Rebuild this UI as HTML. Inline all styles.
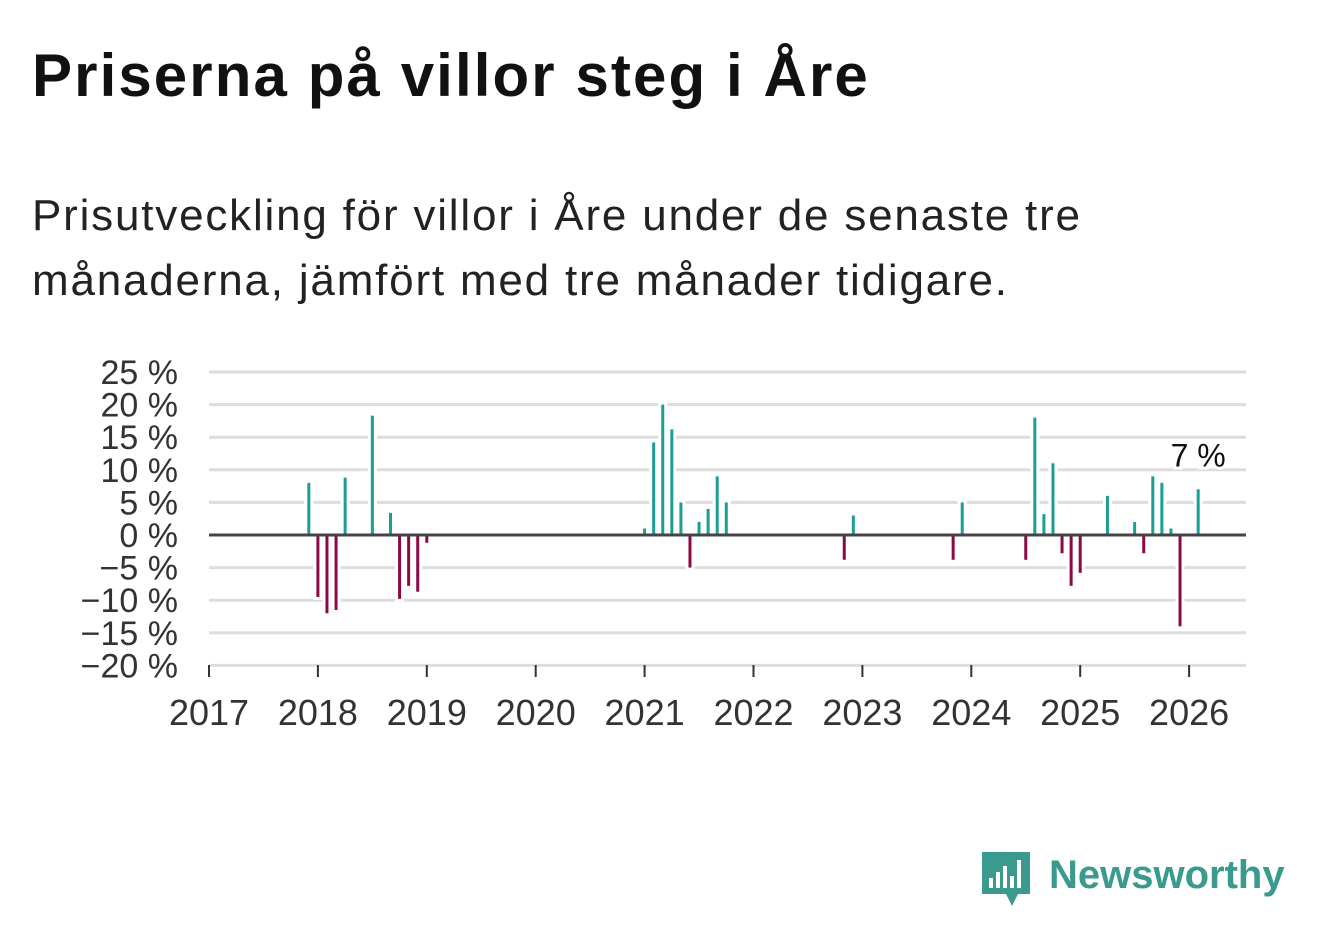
<!DOCTYPE html>
<html><head><meta charset="utf-8"><style>
body{margin:0;width:1322px;height:939px;background:#fff;font-family:"Liberation Sans",sans-serif;overflow:hidden;position:relative}
#title{position:absolute;left:32px;top:41px;font-size:60px;line-height:69px;letter-spacing:2.1px;font-weight:bold;color:#111;margin:0}
#sub{position:absolute;left:32px;top:183px;font-size:44px;line-height:65px;letter-spacing:1.8px;color:#222;width:1280px}
svg{position:absolute;left:0;top:0}
</style></head><body>
<h1 id="title">Priserna på villor steg i Åre</h1>
<div id="sub">Prisutveckling för villor i Åre under de senaste tre<br>månaderna, jämfört med tre månader tidigare.</div>
<svg id="chart" width="1322" height="939"></svg>
<svg width="1322" height="939" style="pointer-events:none">
<path d="M982 852 h48 v42 h-12 l-6 12 l-6 -12 h-24 z" fill="#3a9a8e"/>
<rect x="989" y="878" width="4" height="10" fill="#fff"/><rect x="996" y="872" width="4" height="16" fill="#fff"/><rect x="1003" y="866" width="4" height="22" fill="#fff"/><rect x="1010" y="876" width="4" height="12" fill="#fff"/><rect x="1017" y="860" width="4" height="28" fill="#fff"/>
<text x="1049" y="888" font-size="40" font-weight="bold" fill="#3a9a8e" font-family="Liberation Sans, sans-serif">Newsworthy</text>
</svg>
<script>
const monthIdx=[11,12,13,14,15,18,20,21,22,23,24,48,49,50,51,52,53,54,55,56,57,70,71,82,83,90,91,92,93,94,95,96,99,102,103,104,105,106,107,109];
const values=[8,-9.5,-12,-11.5,8.8,18.3,3.4,-9.8,-7.8,-8.7,-1.2,1,14.2,20,16.2,5,-5,2,4,9,5,-3.8,3,-3.8,5,-3.8,18,3.2,11,-2.8,-7.8,-5.8,6,2,-2.8,9,8,1,-14,7];
const yTicks=[25,20,15,10,5,0,-5,-10,-15,-20];
const years=[2017,2018,2019,2020,2021,2022,2023,2024,2025,2026];
const NS="http://www.w3.org/2000/svg";
const svg=document.getElementById('chart');
const x0=209,pm=9.075,y0=535,py=6.52;
const X=m=>x0+m*pm, Y=v=>y0-v*py;
function el(t,a){const e=document.createElementNS(NS,t);for(const k in a)e.setAttribute(k,a[k]);svg.appendChild(e);return e;}
yTicks.forEach(v=>{
 if(v!==0){const l=el('line',{x1:209,x2:1246,y1:Y(v),y2:Y(v),stroke:'#ddd','stroke-width':3});
 
 }
 const t=el('text',{x:178,y:Y(v)+12,'text-anchor':'end','font-size':34,fill:'#333'});
 t.textContent=(v<0?'−'+(-v):v)+' %';
 
 
});
years.forEach((yr,i)=>{
 const x=X(i*12);
 const tk=el('line',{x1:x,x2:x,y1:665,y2:677,stroke:'#333','stroke-width':2});
 
 
 const t=el('text',{x:x,y:725,'text-anchor':'middle','font-size':36,fill:'#333'});
 t.textContent=yr;
 
 
});
monthIdx.forEach((m,i)=>{
 const v=values[i];const top=Math.min(Y(v),y0),h=Math.abs(Y(v)-y0);
 el('rect',{x:X(m)-4.5,y:top-3,width:9,height:h+6,fill:'#fff'});
});
monthIdx.forEach((m,i)=>{
 const v=values[i];const top=Math.min(Y(v),y0),h=Math.abs(Y(v)-y0);
 const r=el('rect',{x:X(m)-1.5,y:top,width:3,height:h,fill:v>=0?'#1a9e96':'#8b0a45'});
 
 
});
const base=el('line',{x1:209,x2:1246,y1:y0,y2:y0,stroke:'#444','stroke-width':3});


const li=values.length-1;
const lab=el('text',{x:X(monthIdx[li]),y:Y(values[li])-23,'text-anchor':'middle','font-size':32,fill:'#111',stroke:'#fff','stroke-width':6,'paint-order':'stroke'});
lab.textContent=values[li]+' %';


</script>
</body></html>
